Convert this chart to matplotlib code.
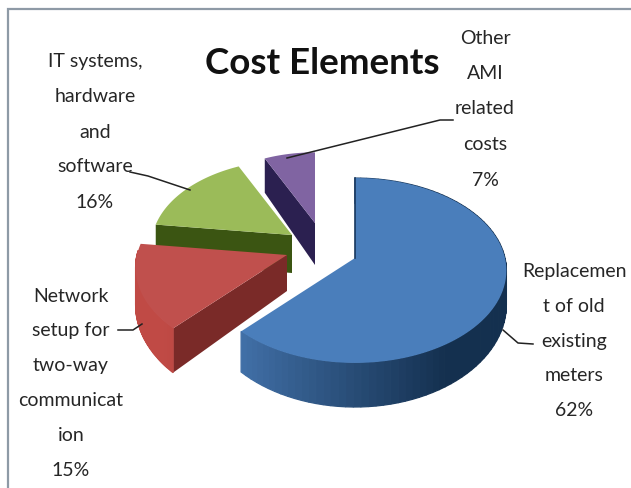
import numpy as np
import matplotlib
matplotlib.use('Agg')
import matplotlib.pyplot as plt
from matplotlib.colors import to_rgb
from matplotlib.patches import Polygon, Rectangle

plt.rcParams['font.family'] = ['Lato', 'DejaVu Sans']

categories = ['Replacement of old existing meters',
              'Network setup for two-way communication',
              'IT systems, hardware and software',
              'Other AMI related costs']
values = [62, 15, 16, 7]

# wrapped label lines, the percentage line gets added from values
label_lines = [['Replacemen', 't of old', 'existing', 'meters'],
               ['Network', 'setup for', 'two-way', 'communicat', 'ion'],
               ['IT systems,', 'hardware', 'and', 'software'],
               ['Other', 'AMI', 'related', 'costs']]
title = 'Cost Elements'

top_colors = ['#4a7ebb', '#c0504d', '#9bbb59', '#8064a2']
cut_colors = ['#17375e', '#7a2a28', '#3b5512', '#2b2050']
wall_light = ['#4474ad', '#c04a45', '#6f8f35', '#5f4a80']
wall_dark = ['#14304f', '#8a2e2b', '#3b5512', '#2b2050']

# slice placement in pixels: apex, radius scale, thickness
apex = [(355, 258), (287, 255), (292, 235), (315, 223)]
scale = [1.0, 1.0, 0.93, 0.87]
thick = [33, 36, 38, 42]
label_pos = [(574, 272, 34.5), (71, 296, 34.8), (95, 62, 35), (485, 38, 35.5)]

R = 150
K = 0.605
P = 0.135


def project(ang, r, ax0, ay0, t=0.0):
    # perspective view of a point on the pie, angle clockwise from 12 o'clock
    u = r * np.sin(ang)
    v = r * np.cos(ang)
    s = 1 / (1 + P * v)
    x = ax0 + R * u * s
    y = ay0 - R * K * v * s + t * s ** 2
    return x, y


fig = plt.figure(figsize=(6.31, 4.88), dpi=100)
ax = fig.add_axes([0, 0, 1, 1])
ax.set_xlim(0, 631)
ax.set_ylim(488, 0)
ax.axis('off')

ax.add_patch(Rectangle((8, 9), 640, 500, fc='white', ec='#8e9aa6', lw=1.6))

edges = np.cumsum([0] + values) / sum(values) * 2 * np.pi

# back to front so the nearer slices cover the others
for i in [3, 2, 1, 0]:
    a0, a1 = edges[i], edges[i + 1]
    x0, y0 = apex[i]
    r = scale[i]
    ang = np.linspace(a0, a1, 90)

    # cut face along the first radius
    p_out = project(a0, r, x0, y0)
    p_out_b = project(a0, r, x0, y0, thick[i])
    ax.add_patch(Polygon([(x0, y0), p_out, p_out_b, (x0, y0 + thick[i])],
                         fc=cut_colors[i], ec='none', zorder=i * -1 + 5))

    # outer wall in small strips, it darkens toward the right
    for j in range(len(ang) - 1):
        if np.cos(ang[j]) > 0.05 and i != 0:
            continue
        f = np.clip((np.sin(ang[j]) + 0.75) / 1.3, 0, 1)
        col = np.array(to_rgb(wall_light[i])) * (1 - f) + np.array(to_rgb(wall_dark[i])) * f
        q = [project(ang[j], r, x0, y0), project(ang[j + 1], r, x0, y0),
             project(ang[j + 1], r, x0, y0, thick[i]),
             project(ang[j], r, x0, y0, thick[i])]
        ax.add_patch(Polygon(q, fc=col, ec=col, lw=0.9, zorder=i * -1 + 5))

    # top face
    xs, ys = project(ang, r, x0, y0)
    pts = [(x0, y0)] + list(zip(xs, ys))
    ax.add_patch(Polygon(pts, fc=top_colors[i], ec='none', zorder=i * -1 + 5.5))

# thin dark edge where the blue slice begins
ax.plot([355, 355], [178, 258], color=cut_colors[0], lw=1.2, zorder=5.6)

# leader lines
leaders = [([503, 518, 533], [330, 343, 344]),
           ([118, 133, 142], [330, 330, 324]),
           ([130, 148, 190], [172, 176, 190]),
           ([453, 440, 287], [120, 120, 158])]
for lx, ly in leaders:
    ax.plot(lx, ly, color='#222222', lw=1.1, zorder=6)

for i in range(4):
    cx, y, step = label_pos[i]
    lines = label_lines[i] + [f'{values[i]}%']
    for n, line in enumerate(lines):
        ax.text(cx, y + n * step, line, ha='center', va='center',
                fontsize=14, color='#262626', zorder=7)

ax.text(322, 64, title, ha='center', va='center', fontsize=26.5,
        fontweight='bold', color='#111111', zorder=7)

fig.savefig('out.png', dpi=100)
